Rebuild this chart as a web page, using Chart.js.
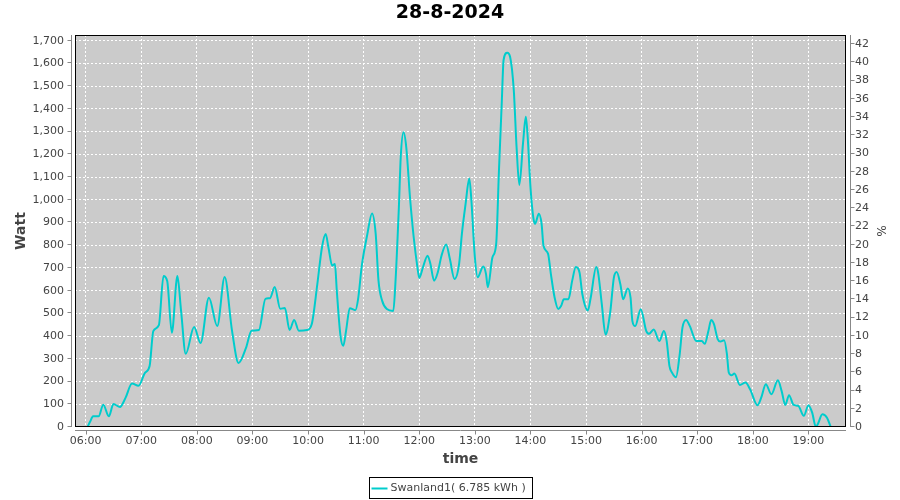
<!DOCTYPE html>
<html>
<head>
<meta charset="utf-8">
<title>28-8-2024</title>
<script src="https://cdn.jsdelivr.net/npm/chart.js@4.4.1/dist/chart.umd.min.js"></script>
<style>
  html, body { margin: 0; padding: 0; background: #fff; }
  canvas { display: block; }
</style>
</head>
<body>
<canvas id="chart" width="900" height="500"></canvas>
<script>
// readings (time of day, watt)
const times = [
  '06:02', '06:05', '06:08', '06:14', '06:19', '06:25', '06:30', '06:37', '06:43', '06:50', '06:57',
  '07:04', '07:09', '07:13', '07:19', '07:24', '07:28', '07:33', '07:39', '07:43', '07:48', '07:57',
  '08:04', '08:13', '08:22', '08:30', '08:38', '08:45', '08:53', '08:59',
  '09:07', '09:14', '09:19', '09:24', '09:30', '09:35', '09:40', '09:45', '09:50', '09:59',
  '10:04', '10:10', '10:15', '10:19', '10:22', '10:26', '10:29', '10:31', '10:35', '10:38', '10:41', '10:45', '10:51', '10:54', '10:58',
  '11:04', '11:09', '11:13', '11:16', '11:20', '11:25', '11:32', '11:34', '11:38', '11:40', '11:43', '11:46', '11:50', '11:54', '11:58',
  '12:00', '12:04', '12:09', '12:12', '12:16', '12:20', '12:24', '12:29', '12:33', '12:38', '12:43', '12:46', '12:50', '12:54', '12:56',
  '13:00', '13:03', '13:09', '13:12', '13:14', '13:19', '13:23', '13:26', '13:29', '13:31', '13:35', '13:38', '13:42', '13:45', '13:48', '13:52', '13:55', '13:57',
  '14:00', '14:03', '14:05', '14:09', '14:12', '14:14', '14:19', '14:22', '14:26', '14:30', '14:33', '14:36', '14:41', '14:45', '14:49', '14:53', '14:56',
  '15:02', '15:05', '15:11', '15:13', '15:17', '15:21', '15:26', '15:30', '15:33', '15:37', '15:40', '15:45', '15:48', '15:50', '15:53', '15:59',
  '16:05', '16:08', '16:13', '16:19', '16:24', '16:27', '16:30', '16:33', '16:37', '16:41', '16:44', '16:48', '16:52', '16:59',
  '17:05', '17:08', '17:12', '17:15', '17:18', '17:22', '17:25', '17:29', '17:32', '17:34', '17:37', '17:40', '17:46', '17:52', '17:57',
  '18:05', '18:09', '18:14', '18:20', '18:27', '18:31', '18:35', '18:39', '18:44', '18:49', '18:55',
  '19:00', '19:04', '19:08', '19:10', '19:15', '19:20', '19:24'
];
const watts = [
  0, 25, 47, 47, 98, 47, 101, 88, 128, 191, 181,
  238, 268, 422, 448, 664, 642, 415, 664, 510, 322, 440,
  370, 569, 444, 660, 422, 282, 348, 424,
  427, 564, 567, 616, 520, 524, 427, 471, 424, 427,
  453, 629, 790, 849, 790, 710, 717, 600, 401, 357, 423, 523, 514, 563, 710,
  849, 940, 849, 644, 555, 519, 511, 614, 967, 1187, 1297, 1230, 1010, 835, 703,
  656, 703, 754, 718, 644, 681, 754, 803, 740, 651, 718, 850, 982, 1093, 1012,
  747, 659, 706, 674, 615, 747, 806, 1129, 1424, 1615, 1647, 1629, 1482, 1232, 1065, 1250, 1365, 1276,
  1056, 924, 894, 938, 894, 799, 762, 674, 571, 519, 532, 562, 562, 643, 704, 679, 584,
  513, 569, 704, 679, 540, 407, 503, 657, 682, 628, 562, 610, 569, 466, 444, 518,
  422, 410, 429, 378, 422, 378, 268, 238, 219, 319, 437, 471, 444, 378,
  378, 366, 422, 471, 453, 387, 376, 382, 321, 240, 228, 235, 185, 196, 166,
  96, 129, 188, 144, 206, 159, 97, 140, 97, 93, 49,
  96, 63, 0, 12, 56, 41, 0
];
const seriesLabel = 'Swanland1( 6.785 kWh )';
const chartTitle = '28-8-2024';

const toMinutes = s => {
  const [h, m] = s.split(':').map(Number);
  return h * 60 + m;
};
const fmtTime = v => {
  const h = Math.floor(v / 60), m = v % 60;
  return String(h).padStart(2, '0') + ':' + String(m).padStart(2, '0');
};

const points = times.map((t, i) => ({ x: toMinutes(t), y: watts[i] }));

Chart.defaults.font.family = '"DejaVu Sans", sans-serif';
Chart.defaults.font.size = 11;
Chart.defaults.color = '#444';

// plot background, frame, offset axis lines with tick marks, boxed legend
const framePlugin = {
  id: 'frame',
  beforeDraw(chart) {
    const { ctx, chartArea: a } = chart;
    ctx.save();
    ctx.fillStyle = '#cbcbcb';
    ctx.fillRect(a.left, a.top, a.right - a.left, a.bottom - a.top);
    ctx.restore();
  },
  afterDraw(chart) {
    const { ctx, chartArea: a, scales } = chart;
    ctx.save();
    ctx.lineWidth = 1;

    ctx.strokeStyle = '#000';
    ctx.strokeRect(a.left + 0.5, a.top + 0.5, a.right - a.left - 1, a.bottom - a.top - 1);

    ctx.strokeStyle = '#888';
    ctx.beginPath();
    // left axis
    const lx = a.left - 3.5;
    ctx.moveTo(lx, a.top); ctx.lineTo(lx, a.bottom);
    scales.y.ticks.forEach(t => {
      const py = Math.round(scales.y.getPixelForValue(t.value)) - 0.5;
      ctx.moveTo(lx - 4, py); ctx.lineTo(lx, py);
    });
    // right axis
    const rx = a.right + 4.5;
    ctx.moveTo(rx, a.top); ctx.lineTo(rx, a.bottom);
    scales.y1.ticks.forEach(t => {
      const py = Math.round(scales.y1.getPixelForValue(t.value)) - 0.5;
      ctx.moveTo(rx, py); ctx.lineTo(rx + 4, py);
    });
    // bottom axis
    const by = a.bottom + 3.5;
    ctx.moveTo(a.left, by); ctx.lineTo(a.right, by);
    scales.x.ticks.forEach(t => {
      const px = Math.round(scales.x.getPixelForValue(t.value)) + 0.5;
      ctx.moveTo(px, by); ctx.lineTo(px, by + 4);
    });
    ctx.stroke();

    // legend box
    const ds = chart.data.datasets[0];
    ctx.font = '11px "DejaVu Sans"';
    const w = ctx.measureText(ds.label).width;
    const bw = Math.round(w + 28);
    const bx = Math.round(chart.width / 2 - bw / 2) + 0.5;
    const bt = 477.5;
    ctx.strokeStyle = '#000';
    ctx.strokeRect(bx, bt, bw, 21);
    ctx.strokeStyle = ds.borderColor;
    ctx.lineWidth = 2;
    ctx.beginPath();
    ctx.moveTo(bx + 2, bt + 11); ctx.lineTo(bx + 18, bt + 11);
    ctx.stroke();
    ctx.fillStyle = '#444';
    ctx.textBaseline = 'middle';
    ctx.textAlign = 'left';
    ctx.fillText(ds.label, bx + 21, bt + 11);
    ctx.restore();
  }
};

new Chart(document.getElementById('chart'), {
  type: 'line',
  data: {
    datasets: [{
      label: seriesLabel,
      data: points,
      borderColor: '#00cccc',
      borderWidth: 2,
      pointRadius: 0,
      cubicInterpolationMode: 'monotone',
      fill: false,
      xAxisID: 'x',
      yAxisID: 'y'
    }]
  },
  options: {
    responsive: false,
    animation: false,
    devicePixelRatio: 1,
    layout: { padding: 0 },
    plugins: {
      legend: { display: false },
      tooltip: { enabled: false },
      title: {
        display: true,
        text: chartTitle,
        color: '#000',
        font: { size: 19, weight: 'bold' },
        padding: { top: 1.5, bottom: 10.7 }
      }
    },
    scales: {
      x: {
        type: 'linear',
        position: 'bottom',
        min: 348.5,
        max: 1180.5,
        afterBuildTicks: s => { s.ticks = s.ticks.filter(t => t.value % 60 === 0); },
        afterFit: s => { s.height = 73; },
        ticks: {
          stepSize: 60,
          maxTicksLimit: 100,
          includeBounds: false,
          autoSkip: false,
          maxRotation: 0,
          padding: 8,
          callback: v => fmtTime(v)
        },
        grid: { color: '#fff', lineWidth: 1, drawTicks: false },
        border: { display: false, dash: [2, 2] },
        title: {
          display: true,
          text: 'time',
          color: '#444',
          font: { size: 14, weight: 'bold' },
          padding: { top: 0, bottom: 32 }
        }
      },
      y: {
        position: 'left',
        min: 0,
        max: 1725,
        afterBuildTicks: s => { s.ticks = s.ticks.filter(t => t.value % 100 === 0); },
        afterFit: s => { s.width = 75; },
        ticks: {
          stepSize: 100,
          maxTicksLimit: 100,
          includeBounds: false,
          autoSkip: false,
          padding: 11,
          callback: v => v.toLocaleString('en-US')
        },
        grid: { color: '#fff', lineWidth: 1, drawTicks: false },
        border: { display: false, dash: [2, 2] },
        title: {
          display: true,
          text: 'Watt',
          color: '#444',
          font: { size: 14, weight: 'bold' },
          padding: { top: 13, bottom: 0 }
        }
      },
      y1: {
        position: 'right',
        min: 0,
        max: 43,
        afterBuildTicks: s => { s.ticks = s.ticks.filter(t => t.value % 2 === 0); },
        afterFit: s => { s.width = 54; },
        ticks: {
          stepSize: 2,
          maxTicksLimit: 100,
          includeBounds: false,
          autoSkip: false,
          padding: 9
        },
        grid: { display: false, drawTicks: false },
        border: { display: false },
        title: {
          display: true,
          text: '%',
          color: '#444',
          font: { size: 12 },
          padding: { top: 12.8, bottom: 0 }
        }
      }
    }
  },
  plugins: [framePlugin]
});
</script>
</body>
</html>
